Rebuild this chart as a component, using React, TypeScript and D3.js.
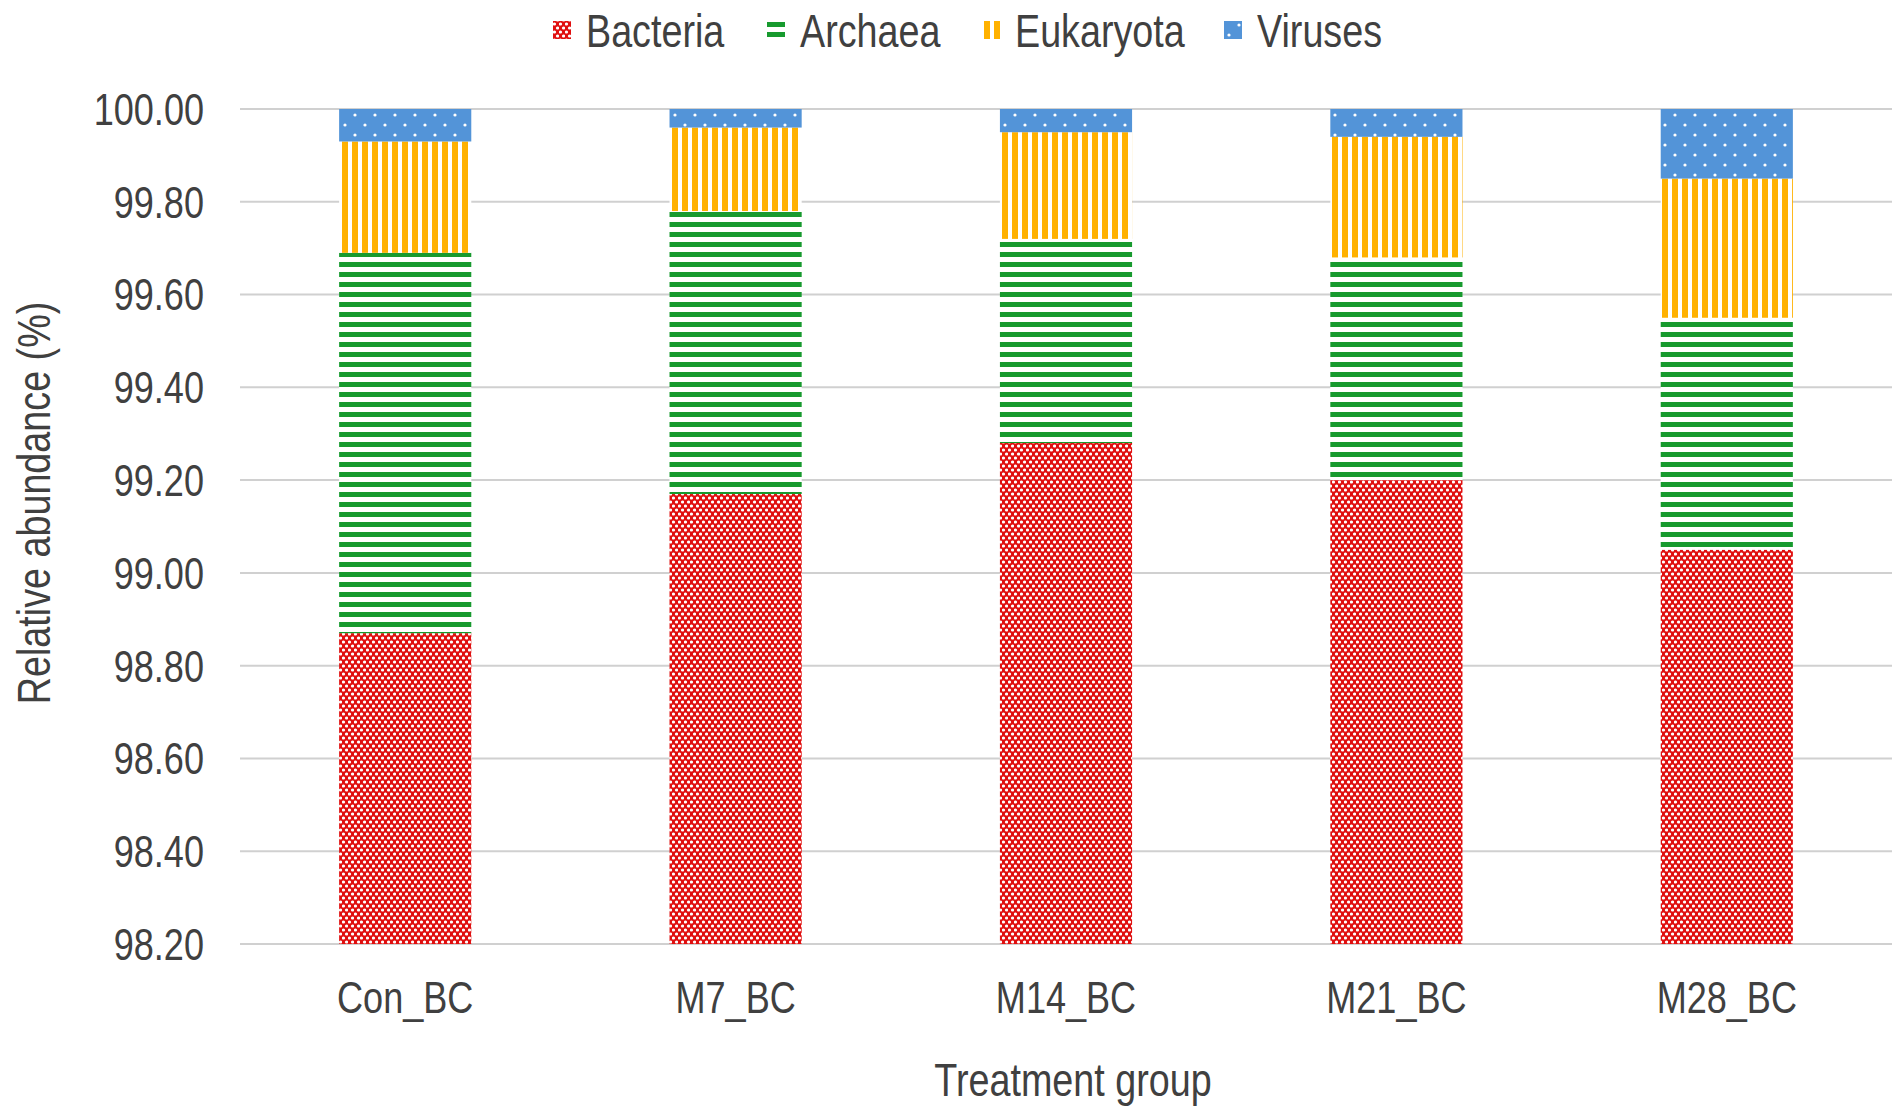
import { useEffect } from "react";
import * as d3 from "d3";

// stacked relative abundance by treatment group, Excel-like pattern fills

const GROUPS = ["Con_BC", "M7_BC", "M14_BC", "M21_BC", "M28_BC"];
const DOMAINS = ["Bacteria", "Archaea", "Eukaryota", "Viruses"];

const BACTERIA = [98.87, 99.17, 99.28, 99.2, 99.05];
const ARCHAEA = [0.82, 0.61, 0.44, 0.48, 0.5];
const EUKARYOTA = [0.24, 0.18, 0.23, 0.26, 0.3];
const VIRUSES = [0.07, 0.04, 0.05, 0.06, 0.15];

const Y_TICKS = [98.2, 98.4, 98.6, 98.8, 99.0, 99.2, 99.4, 99.6, 99.8, 100.0];

const WIDTH = 1902;
const HEIGHT = 1114;
const MARGIN = { top: 109, right: 10, bottom: 170, left: 240 };

// no Arial Narrow installed: squeeze Liberation Sans (Arial metrics) horizontally
const FONT = "'Liberation Sans', Arial, sans-serif";
const NARROW = 0.82;
const TEXT = "#404040";

const COLORS: Record<string, string> = {
  Bacteria: "#e00f0f",
  Archaea: "#179a2e",
  Eukaryota: "#ffb100",
  Viruses: "#5394d8",
};

type NTextProps = {
  x: number;
  y: number;
  size: number;
  anchor?: "start" | "middle" | "end";
  rotate?: number;
  dy?: string;
  children: string;
};

const NText = ({ x, y, size, anchor = "start", rotate = 0, dy, children }: NTextProps) => (
  <text
    transform={`translate(${x},${y}) rotate(${rotate}) scale(${NARROW},1)`}
    textAnchor={anchor}
    dy={dy}
    fontFamily={FONT}
    fontSize={size}
    fill={TEXT}
  >
    {children}
  </text>
);

const Patterns = () => (
  <defs>
    <pattern id="pat-Bacteria" patternUnits="userSpaceOnUse" width={6} height={8}>
      <rect width={6} height={8} fill={COLORS.Bacteria} />
      <ellipse cx={1.5} cy={2} rx={1.6} ry={1.5} fill="#fff" />
      <ellipse cx={4.5} cy={6} rx={1.6} ry={1.5} fill="#fff" />
    </pattern>
    <pattern id="pat-Archaea" patternUnits="userSpaceOnUse" width={10} height={10}>
      <rect width={10} height={10} fill="#fff" />
      <rect y={2} width={10} height={5} fill={COLORS.Archaea} />
    </pattern>
    <pattern id="pat-Eukaryota" patternUnits="userSpaceOnUse" width={10} height={10}>
      <rect width={10} height={10} fill="#fff" />
      <rect x={2} width={6} height={10} fill={COLORS.Eukaryota} />
    </pattern>
    <pattern id="pat-Viruses" patternUnits="userSpaceOnUse" width={20} height={20}>
      <rect width={20} height={20} fill={COLORS.Viruses} />
      <circle cx={5} cy={5} r={1.6} fill="#fff" />
      <circle cx={15} cy={15} r={1.6} fill="#fff" />
    </pattern>
  </defs>
);

export default function App() {
  useEffect(() => {
    document.body.style.margin = "0";
  }, []);

  const rows = GROUPS.map((g, i) => ({
    group: g,
    Bacteria: BACTERIA[i],
    Archaea: ARCHAEA[i],
    Eukaryota: EUKARYOTA[i],
    Viruses: VIRUSES[i],
  }));
  const series = d3.stack<any>().keys(DOMAINS)(rows);

  const x = d3
    .scaleBand()
    .domain(GROUPS)
    .range([MARGIN.left, WIDTH - MARGIN.right])
    .paddingInner(0.6)
    .paddingOuter(0.3);
  const y = d3
    .scaleLinear()
    .domain([98.2, 100])
    .range([HEIGHT - MARGIN.bottom, MARGIN.top])
    .clamp(true);

  // legend layout, rough text widths (narrowed 46px)
  const legendWidths = [139, 140, 167, 126];
  const markerGap = 33;
  const itemGap = 42;
  const total = d3.sum(legendWidths) + DOMAINS.length * markerGap + (DOMAINS.length - 1) * itemGap;
  let lx = 968 - total / 2;
  const legendItems = DOMAINS.map((d, i) => {
    const item = { key: d, x: lx };
    lx += markerGap + legendWidths[i] + itemGap;
    return item;
  });

  return (
    <svg width={WIDTH} height={HEIGHT} style={{ display: "block", background: "#fff" }}>
      <Patterns />
      {/* gridlines */}
      {Y_TICKS.map((t) => (
        <line
          key={t}
          x1={MARGIN.left}
          x2={WIDTH - MARGIN.right}
          y1={y(t)}
          y2={y(t)}
          stroke="#d0d0d0"
          strokeWidth={2}
        />
      ))}
      {/* bars */}
      {series.map((s) => (
        <g key={s.key} fill={`url(#pat-${s.key})`}>
          {s.map((d: any) => (
            <rect
              key={d.data.group}
              x={x(d.data.group)}
              width={x.bandwidth()}
              y={y(d[1])}
              height={Math.max(0, y(d[0]) - y(d[1]))}
            />
          ))}
        </g>
      ))}
      {/* y tick labels */}
      {Y_TICKS.map((t) => (
        <NText key={t} x={204} y={y(t)} dy="0.36em" anchor="end" size={44}>
          {d3.format(".2f")(t)}
        </NText>
      ))}
      {/* x tick labels */}
      {GROUPS.map((g) => (
        <NText key={g} x={(x(g) ?? 0) + x.bandwidth() / 2} y={1013} anchor="middle" size={44}>
          {g}
        </NText>
      ))}
      {/* axis titles */}
      <NText x={1073} y={1096} anchor="middle" size={46}>
        Treatment group
      </NText>
      <NText x={50} y={503} rotate={-90} anchor="middle" size={46}>
        Relative abundance (%)
      </NText>
      {/* legend */}
      {legendItems.map((it) => (
        <g key={it.key} transform={`translate(${it.x},30)`}>
          <rect x={0} y={-9} width={18} height={18} fill={`url(#pat-${it.key})`} />
          <NText x={markerGap} y={0} dy="0.36em" size={46}>
            {it.key}
          </NText>
        </g>
      ))}
    </svg>
  );
}
